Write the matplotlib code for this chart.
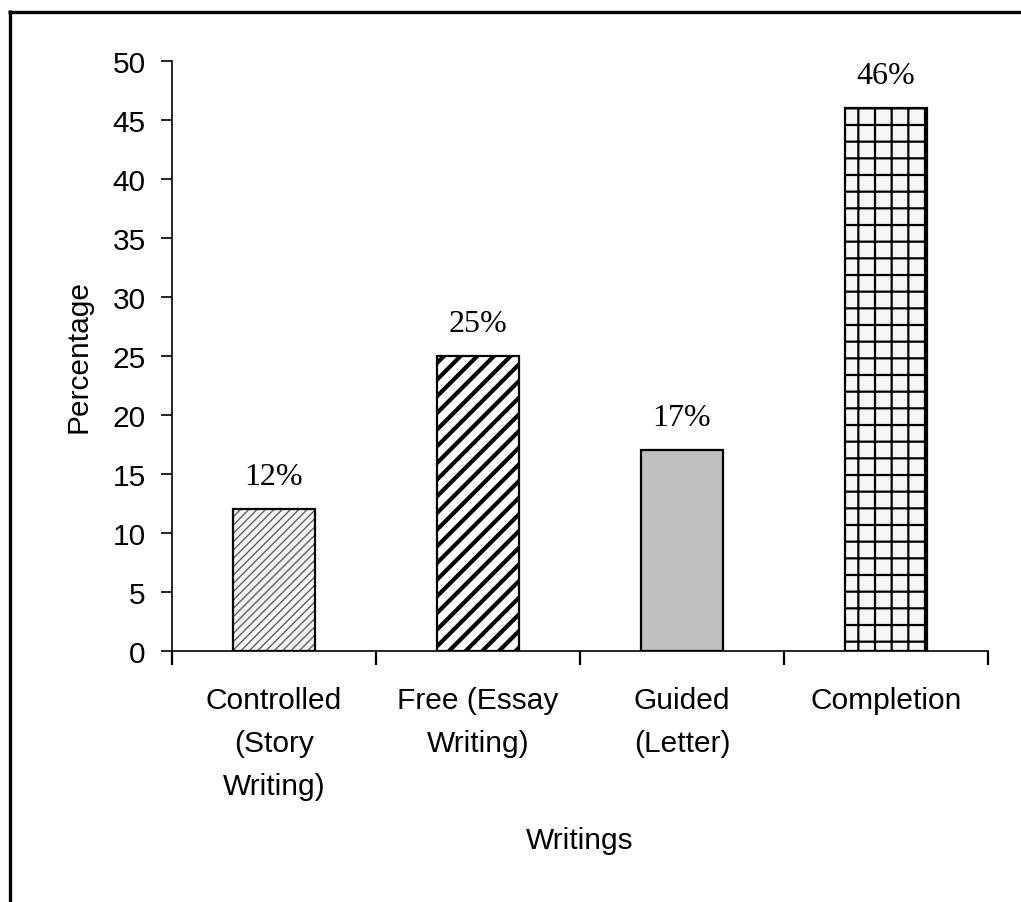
import matplotlib
matplotlib.use("Agg")
import matplotlib.pyplot as plt
from matplotlib.lines import Line2D

categories = ["Controlled\n(Story\nWriting)", "Free (Essay\nWriting)", "Guided\n(Letter)", "Completion"]
values = [12, 25, 17, 46]
labels = ["12%", "25%", "17%", "46%"]
yticks = [0, 5, 10, 15, 20, 25, 30, 35, 40, 45, 50]

plt.rcParams["font.family"] = ["Liberation Sans", "DejaVu Sans"]

fig = plt.figure(figsize=(10.21, 9.03), dpi=100)
ax = fig.add_axes([172 / 1021, 1 - 652 / 903, (988 - 172) / 1021, (652 - 62) / 903])

x = list(range(len(values)))
w = 0.4

# fill / hatch layers (hatch colour follows edge colour, so outline drawn separately)
styles = [
    dict(facecolor="#f4f4f4", edgecolor="#555555", hatch="////", lw=0, hlw=0.9),
    dict(facecolor="white", edgecolor="black", hatch="//", lw=0, hlw=3.0),
    dict(facecolor="#c0c0c0", edgecolor="#c0c0c0", hatch=None, lw=0, hlw=1.0),
    dict(facecolor="#f6f6f6", edgecolor="black", hatch="+", lw=0, hlw=1.6),
]
for xi, v, st in zip(x, values, styles):
    plt.rcParams["hatch.linewidth"] = st["hlw"]
    ax.bar(xi, v, width=w, facecolor=st["facecolor"], edgecolor=st["edgecolor"],
           hatch=st["hatch"], linewidth=st["lw"], zorder=2)
ax.bar(x, values, width=w, facecolor="none", edgecolor="black", linewidth=1.6, zorder=3)

for xi, v, lab in zip(x, values, labels):
    ax.annotate(lab, (xi, v), xytext=(0, 13), textcoords="offset points",
                ha="center", va="bottom", fontsize=23, family=["Liberation Serif"])

ax.set_xlim(-0.5, 3.5)
ax.set_ylim(0, 50)
ax.set_yticks(yticks)
ax.set_xticks(x)
ax.set_xticklabels(categories, fontsize=21.5, linespacing=1.68, va="top")
ax.tick_params(axis="y", labelsize=21.5, length=8, width=1.2, pad=11, direction="out")
ax.tick_params(axis="x", length=0, pad=25)
# category boundary ticks on the x axis
ax.set_xticks([-0.5, 0.5, 1.5, 2.5, 3.5], minor=True)
ax.tick_params(axis="x", which="minor", length=10, width=1.6, direction="out")

for s in ("top", "right"):
    ax.spines[s].set_visible(False)
for s in ("left", "bottom"):
    ax.spines[s].set_linewidth(1.2)

ax.set_ylabel("Percentage", fontsize=21.5, labelpad=14)
ax.set_xlabel("Writings", fontsize=21.5, labelpad=19)

# outer frame: top and left edges
fig.add_artist(Line2D([9.5 / 1021, 9.5 / 1021], [0, 1 - 11 / 903], color="black", lw=2.4,
                      transform=fig.transFigure, solid_capstyle="butt"))
fig.add_artist(Line2D([8.3 / 1021, 1], [1 - 12.5 / 903, 1 - 12.5 / 903], color="black", lw=2.4,
                      transform=fig.transFigure, solid_capstyle="butt"))

fig.savefig("out.png", dpi=100)
